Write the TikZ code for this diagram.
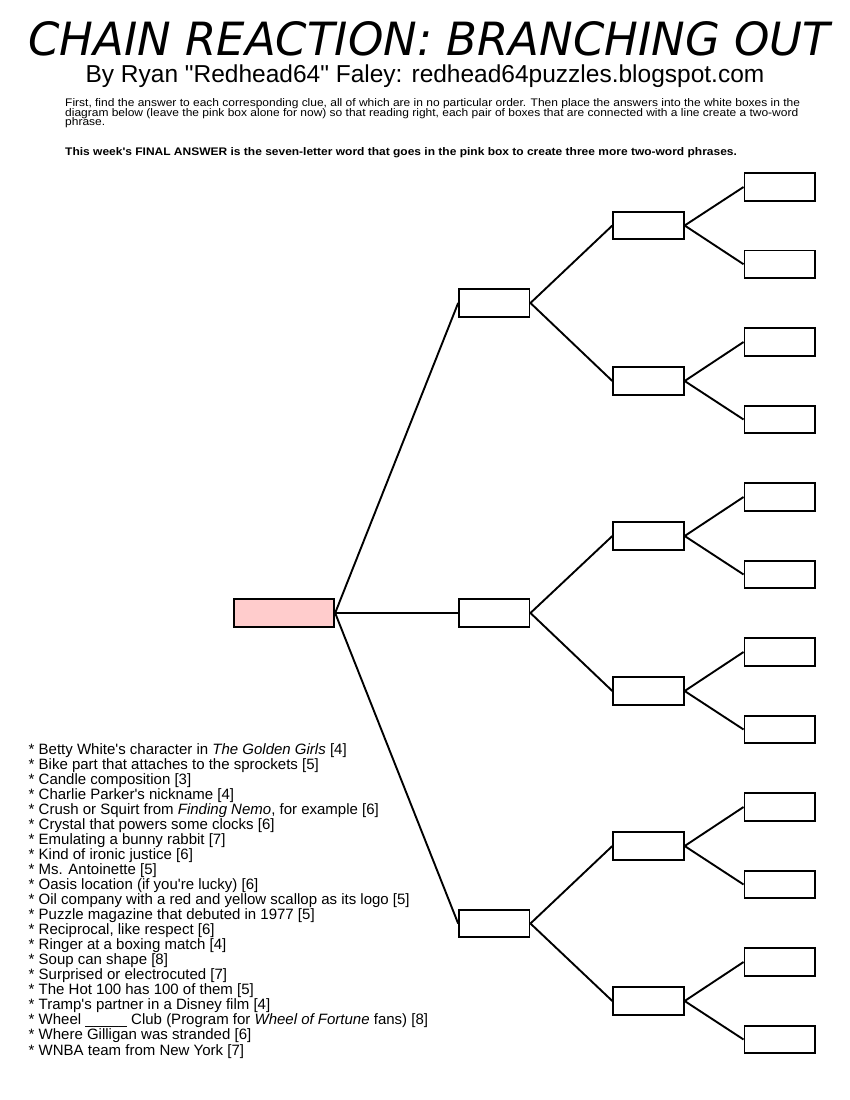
\documentclass[tikz,border=0pt]{standalone}
\usepackage{fontspec}
\setmainfont{Liberation Sans}[Ligatures=TeXOff]
\newfontfamily\instrfont{Liberation Sans}[Ligatures=TeXOff,FakeStretch=1.09]
\newfontfamily\titlefont{DejaVu Sans}
\usepackage{graphicx}
\begin{document}
\begin{tikzpicture}[x=1pt,y=-1pt,
  wbox/.style={draw, line width=1.8pt, minimum width=70.5pt, minimum height=27.5pt, inner sep=0pt, fill=white},
  pbox/.style={wbox, minimum width=100.5pt, fill=pinkfill},
  link/.style={line width=1.9pt},
  instr/.style={anchor=base west, inner sep=0pt, font=\instrfont\fontsize{11}{11}\selectfont},
  clue/.style={anchor=base west, inner sep=0pt, font=\fontsize{15}{15}\selectfont}]
\definecolor{pinkfill}{HTML}{FFCCCC}
\useasboundingbox[fill=white] (0,0) rectangle (850,1100);
% title
\node[anchor=south west, inner sep=0pt] (title) at (28,56)
  {\resizebox{802pt}{34pt}{\titlefont\itshape CHAIN REACTION: BRANCHING OUT}};
\node[anchor=base, inner sep=0pt, font=\fontsize{24.5}{24.5}\selectfont] (sub) at (425,82)
  {By Ryan "Redhead64" Faley: redhead64puzzles.blogspot.com};
% instructions
\node[instr] (i1) at (65,106.5) {First, find the answer to each corresponding clue, all of which are in no particular order. Then place the answers into the white boxes in the};
\node[instr] (i2) at (65,116.2) {diagram below (leave the pink box alone for now) so that reading right, each pair of boxes that are connected with a line create a two-word};
\node[instr] (i3) at (65,125.9) {phrase.};
\node[instr, font=\instrfont\fontsize{11}{11}\selectfont\bfseries] (final) at (65,155)
  {This week's FINAL ANSWER is the seven-letter word that goes in the pink box to create three more two-word phrases.};
% boxes
\node[pbox] (p) at (284,613) {};
\node[wbox] (a) at (494.3,303) {};
\node[wbox] (b) at (494.3,613) {};
\node[wbox] (c) at (494.3,923.5) {};
\foreach \n/\y in {a1/225.5,a2/381,b1/536,b2/691,c1/846,c2/1001}
  \node[wbox] (\n) at (648.5,\y) {};
\foreach \n/\y in {a11/187,a12/264.25,a21/342,a22/419.5,b11/497,b12/574.5,b21/652,b22/729.5,c11/807,c12/884.5,c21/962,c22/1039.5}
  \node[wbox] (\n) at (779.7,\y) {};
% connectors
\foreach \s/\t in {p/a,p/b,p/c,a/a1,a/a2,b/b1,b/b2,c/c1,c/c2,
  a1/a11,a1/a12,a2/a21,a2/a22,b1/b11,b1/b12,b2/b21,b2/b22,c1/c11,c1/c12,c2/c21,c2/c22}
  \draw[link] (\s.east) -- (\t.west);
% clues
\foreach \t [count=\i from 0] in {
   {* Betty White's character in \textit{The Golden Girls} [4]},
   {* Bike part that attaches to the sprockets [5]},
   {* Candle composition [3]},
   {* Charlie Parker's nickname [4]},
   {* Crush or Squirt from \textit{Finding Nemo}, for example [6]},
   {* Crystal that powers some clocks [6]},
   {* Emulating a bunny rabbit [7]},
   {* Kind of ironic justice [6]},
   {* Ms. Antoinette [5]},
   {* Oasis location (if you're lucky) [6]},
   {* Oil company with a red and yellow scallop as its logo [5]},
   {* Puzzle magazine that debuted in 1977 [5]},
   {* Reciprocal, like respect [6]},
   {* Ringer at a boxing match [4]},
   {* Soup can shape [8]},
   {* Surprised or electrocuted [7]},
   {* The Hot 100 has 100 of them [5]},
   {* Tramp's partner in a Disney film [4]},
   {* Wheel \_\_\_\_\_ Club (Program for \textit{Wheel of Fortune} fans) [8]},
   {* Where Gilligan was stranded [6]},
   {* WNBA team from New York [7]}}
  \node[clue] (clue\i) at (28.5,754+15.05*\i) {\t};
\end{tikzpicture}
\end{document}
